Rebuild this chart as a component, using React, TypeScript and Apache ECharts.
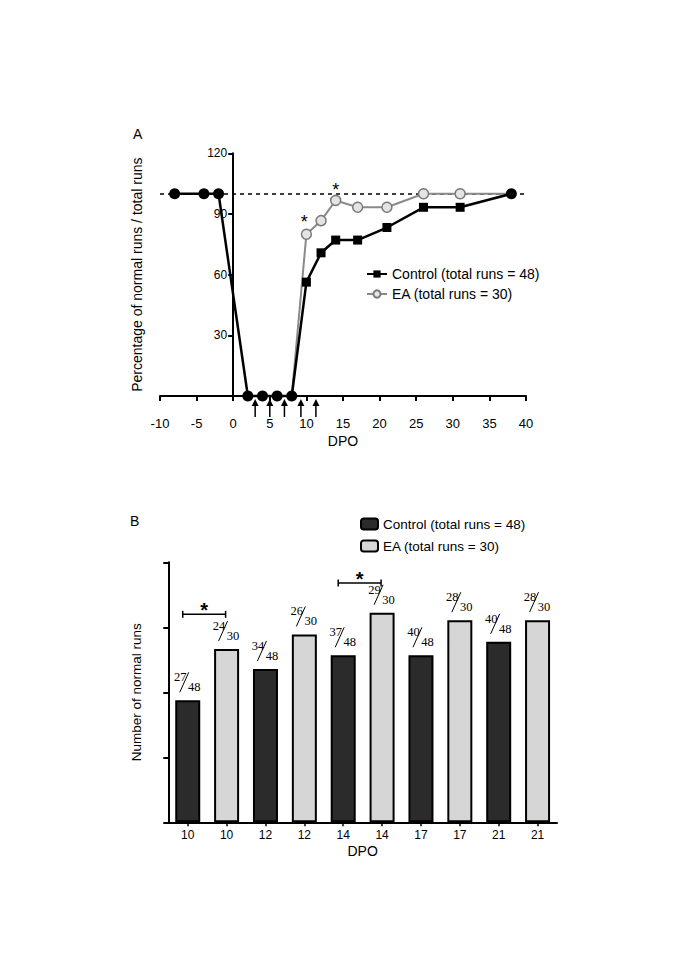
import React, { useEffect, useRef } from 'react';
import * as echarts from 'echarts';

// ---------- Panel A data ----------
const dpoControl = [-8, -4, -2, 2, 4, 6, 8, 10, 12, 14, 17, 21, 26, 31, 38];
const pctControl = [100, 100, 100, 0, 0, 0, 0, 56.3, 70.8, 77.1, 77.1, 83.3, 93.3, 93.3, 100];
const dpoEA = [8, 10, 12, 14, 17, 21, 26, 31, 38];
const pctEA = [0, 80, 86.7, 96.7, 93.3, 93.3, 100, 100, 100];
const significantA = [
  [9.7, 88],
  [14, 104],
];
const stimulationDays = [3, 5, 7, 9.25, 11.3];

// ---------- Panel B data ----------
const dpoB = ['10', '10', '12', '12', '14', '14', '17', '17', '21', '21'];
const groupB = ['Control', 'EA', 'Control', 'EA', 'Control', 'EA', 'Control', 'EA', 'Control', 'EA'];
const barPct = [56.3, 80, 70.8, 86.7, 77.1, 96.7, 77.1, 93.3, 83.3, 93.3];
const normalRuns = [27, 24, 34, 26, 37, 29, 40, 28, 40, 28];
const totalRuns = [48, 30, 48, 30, 48, 30, 48, 30, 48, 30];
const sigPairs = [
  [0, 1, 96],
  [4, 5, 110.4],
];

const legendText: Record<string, string> = {
  ctrlA: 'Control (total runs = 48)',
  eaA: 'EA (total runs = 30)',
  ctrlB: 'Control (total runs = 48)',
  eaB: 'EA (total runs = 30)',
};

export default function App() {
  const ref = useRef<HTMLDivElement>(null);

  useEffect(() => {
    const chart = echarts.init(ref.current!, null, { renderer: 'svg' });
    const font = "'Liberation Sans', Arial, Helvetica, sans-serif";
    const serif = "'Liberation Serif', 'Times New Roman', serif";
    const black = '#000';

    // Grid A geometry: x from -10 to 40 over 366 px; the y axis sits at x = 0
    const gridALeft = 160;
    const gridAWidth = 366;
    const xMinA = -10;
    const xMaxA = 40;
    const yAxisOffsetA = -((0 - xMinA) / (xMaxA - xMinA)) * gridAWidth;

    const option: any = {
      animation: false,
      backgroundColor: '#fff',
      textStyle: { fontFamily: font, color: black },
      graphic: [
        { type: 'text', left: 133, top: 127, style: { text: 'A', fontSize: 14, fill: black, fontFamily: font } },
        { type: 'text', left: 130, top: 514, style: { text: 'B', fontSize: 14, fill: black, fontFamily: font } },
      ],
      legend: [
        {
          orient: 'vertical',
          left: 366,
          top: 267,
          padding: 0,
          itemWidth: 20,
          itemHeight: 9,
          itemGap: 6,
          selectedMode: false,
          data: ['ctrlA', 'eaA'],
          formatter: (n: string) => legendText[n],
          textStyle: { fontSize: 14, color: black, fontFamily: font },
        },
        {
          orient: 'vertical',
          left: 360,
          top: 517,
          padding: 0,
          itemWidth: 17,
          itemHeight: 11,
          itemGap: 8,
          selectedMode: false,
          data: ['ctrlB', 'eaB'],
          formatter: (n: string) => legendText[n],
          textStyle: { fontSize: 13.5, color: black, fontFamily: font },
        },
      ],
      grid: [
        { left: gridALeft, top: 153.3, width: gridAWidth, height: 242.7 },
        { left: 168.3, top: 562.3, width: 388.7, height: 260 },
      ],
      xAxis: [
        {
          type: 'value',
          gridIndex: 0,
          min: xMinA,
          max: xMaxA,
          interval: 5,
          axisLine: { onZero: false, lineStyle: { color: black, width: 2 } },
          axisTick: { length: 5, lineStyle: { color: black, width: 2 } },
          axisLabel: { margin: 21, fontSize: 13, color: black },
          splitLine: { show: false },
          name: 'DPO',
          nameLocation: 'middle',
          nameGap: 38,
          nameTextStyle: { fontSize: 14, color: black },
        },
        {
          type: 'category',
          gridIndex: 1,
          data: dpoB,
          axisLine: { lineStyle: { color: black, width: 2 } },
          axisTick: { show: true, alignWithLabel: true, length: 4, lineStyle: { color: black, width: 1.5 } },
          axisLabel: { margin: 7, fontSize: 12, color: black, interval: 0 },
          name: 'DPO',
          nameLocation: 'middle',
          nameGap: 22,
          nameTextStyle: { fontSize: 14, color: black },
        },
      ],
      yAxis: [
        {
          type: 'value',
          gridIndex: 0,
          min: 0,
          max: 120,
          interval: 30,
          offset: yAxisOffsetA,
          axisLine: { show: true, onZero: false, lineStyle: { color: black, width: 2 } },
          axisTick: { show: true, length: 5, lineStyle: { color: black, width: 2 } },
          axisLabel: { margin: 6, fontSize: 12, color: black, formatter: (v: number) => (v === 0 ? '' : String(v)) },
          splitLine: { show: false },
          name: 'Percentage of normal runs / total runs',
          nameLocation: 'middle',
          nameGap: 89,
          nameTextStyle: { fontSize: 14, color: black },
        },
        {
          type: 'value',
          gridIndex: 1,
          min: 0,
          max: 120,
          interval: 30,
          axisLine: { show: true, lineStyle: { color: black, width: 2 } },
          axisTick: { show: true, length: 5, lineStyle: { color: black, width: 2 } },
          axisLabel: { show: false },
          splitLine: { show: false },
          name: 'Number of normal runs',
          nameLocation: 'middle',
          nameGap: 25,
          nameTextStyle: { fontSize: 13.5, color: black },
        },
      ],
      series: [
        {
          name: 'eaA',
          type: 'line',
          xAxisIndex: 0,
          yAxisIndex: 0,
          clip: false,
          z: 2,
          symbol: 'circle',
          symbolSize: 10,
          itemStyle: { color: '#e4e4e4', borderColor: '#7a7a7a', borderWidth: 1.5 },
          lineStyle: { color: '#8a8a8a', width: 2 },
          data: dpoEA.map((x, i) => {
            const overlap = dpoControl.some((cx, j) => cx === x && pctControl[j] === pctEA[i]);
            return overlap ? { value: [x, pctEA[i]], symbol: 'none' } : [x, pctEA[i]];
          }),
          markLine: {
            silent: true,
            z: 1,
            symbol: 'none',
            label: { show: false },
            lineStyle: { color: black, type: [4, 4], width: 1.5 },
            data: [{ yAxis: 100 }],
          },
        },
        {
          name: 'ctrlA',
          type: 'line',
          xAxisIndex: 0,
          yAxisIndex: 0,
          clip: false,
          z: 3,
          symbol: 'rect',
          symbolSize: 9,
          itemStyle: { color: black },
          lineStyle: { color: black, width: 2.5 },
          data: dpoControl.map((x, i) => {
            const y = pctControl[i];
            return y === 0 || y === 100 ? { value: [x, y], symbol: 'circle', symbolSize: 11 } : [x, y];
          }),
        },
        {
          type: 'custom',
          xAxisIndex: 0,
          yAxisIndex: 0,
          clip: false,
          silent: true,
          encode: { x: 0, y: 1 },
          data: stimulationDays.map((d) => [d, 0]),
          renderItem: (params: any, api: any) => {
            const p = api.coord([api.value(0), api.value(1)]);
            const tip = p[1] + 3;
            return {
              type: 'group',
              children: [
                { type: 'line', shape: { x1: p[0], y1: tip + 5, x2: p[0], y2: tip + 18 }, style: { stroke: black, lineWidth: 1.5 } },
                { type: 'polygon', shape: { points: [[p[0] - 3.5, tip + 7], [p[0], tip], [p[0] + 3.5, tip + 7]] }, style: { fill: black } },
              ],
            };
          },
        },
        {
          type: 'custom',
          xAxisIndex: 0,
          yAxisIndex: 0,
          clip: false,
          silent: true,
          encode: { x: 0, y: 1 },
          data: significantA,
          renderItem: (params: any, api: any) => {
            const p = api.coord([api.value(0), api.value(1)]);
            return {
              type: 'text',
              x: p[0],
              y: p[1] + 4,
              style: { text: '*', fontSize: 18, fontFamily: font, fill: black, align: 'center', verticalAlign: 'middle' },
            };
          },
        },
        {
          name: 'ctrlB',
          type: 'bar',
          xAxisIndex: 1,
          yAxisIndex: 1,
          barWidth: 25,
          barGap: '-100%',
          itemStyle: { color: '#2b2b2b', borderColor: black, borderWidth: 2 },
          data: barPct.map((v, i) => (groupB[i] === 'Control' ? v : '-')),
        },
        {
          name: 'eaB',
          type: 'bar',
          xAxisIndex: 1,
          yAxisIndex: 1,
          barWidth: 25,
          barGap: '-100%',
          itemStyle: { color: '#d6d6d6', borderColor: black, borderWidth: 2 },
          data: barPct.map((v, i) => (groupB[i] === 'EA' ? v : '-')),
        },
        {
          type: 'custom',
          xAxisIndex: 1,
          yAxisIndex: 1,
          clip: false,
          silent: true,
          encode: { x: 0, y: 1 },
          data: barPct.map((v, i) => [i, v, normalRuns[i], totalRuns[i]]),
          renderItem: (params: any, api: any) => {
            const p = api.coord([api.value(0), api.value(1)]);
            const cx = p[0];
            const ty = p[1];
            const ts = { fontSize: 12.5, fontFamily: serif, fill: black, align: 'center', verticalAlign: 'middle' };
            return {
              type: 'group',
              children: [
                { type: 'text', x: cx - 7.5, y: ty - 23, style: { ...ts, text: String(api.value(2)) } },
                { type: 'line', shape: { x1: cx - 8, y1: ty - 8, x2: cx + 1, y2: ty - 28 }, style: { stroke: black, lineWidth: 1 } },
                { type: 'text', x: cx + 6.5, y: ty - 13, style: { ...ts, text: String(api.value(3)) } },
              ],
            };
          },
        },
        {
          type: 'custom',
          xAxisIndex: 1,
          yAxisIndex: 1,
          clip: false,
          silent: true,
          encode: { x: [0, 1], y: 2 },
          data: sigPairs,
          renderItem: (params: any, api: any) => {
            const a = api.coord([api.value(0), api.value(2)]);
            const b = api.coord([api.value(1), api.value(2)]);
            const x1 = a[0] - 5;
            const x2 = b[0] - 1;
            const y = a[1];
            const ls = { stroke: black, lineWidth: 1.5 };
            return {
              type: 'group',
              children: [
                { type: 'line', shape: { x1, y1: y, x2, y2: y }, style: ls },
                { type: 'line', shape: { x1, y1: y - 3.5, x2: x1, y2: y + 3.5 }, style: ls },
                { type: 'line', shape: { x1: x2, y1: y - 3.5, x2, y2: y + 3.5 }, style: ls },
                {
                  type: 'text',
                  x: (x1 + x2) / 2,
                  y: y - 4.5,
                  style: { text: '*', fontSize: 20, fontWeight: 'bold', fontFamily: font, fill: black, align: 'center', verticalAlign: 'middle' },
                },
              ],
            };
          },
        },
      ],
    };

    chart.setOption(option);
    return () => chart.dispose();
  }, []);

  return (
    <div
      ref={ref}
      style={{ position: 'fixed', left: 0, top: 0, width: 685, height: 969, background: '#fff' }}
    />
  );
}
